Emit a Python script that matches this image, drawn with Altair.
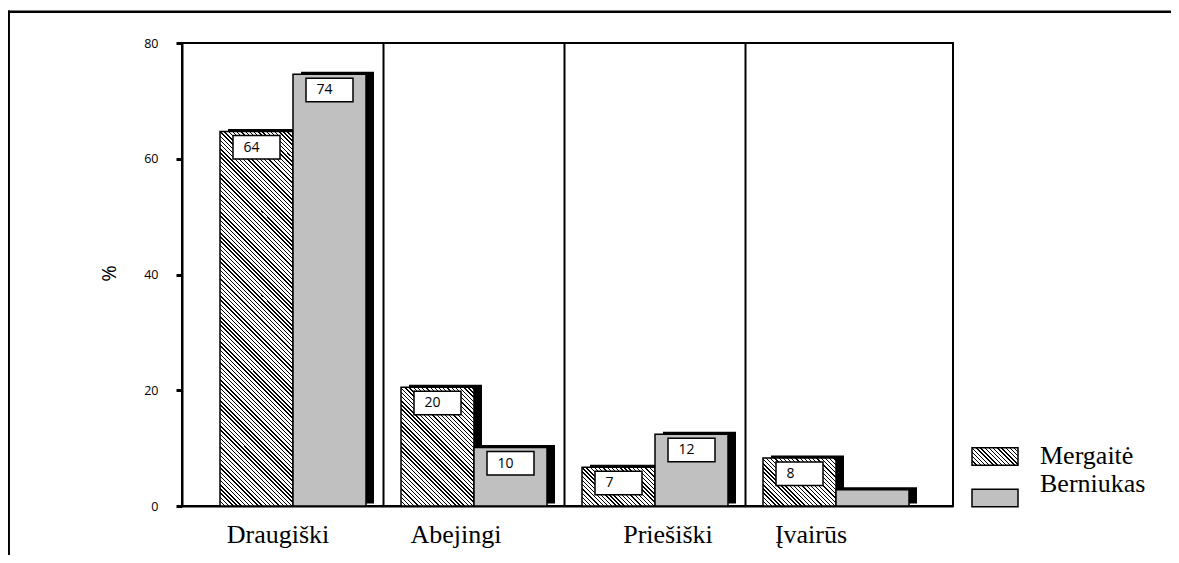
import altair as alt
import pandas as pd

# ---- data ----
categories = ["Draugiški", "Abejingi", "Priešiški", "Įvairūs"]
genders = ["Mergaitė", "Berniukas"]
girls = [64.7, 20.5, 6.7, 8.3]
boys = [74.6, 10.1, 12.4, 2.8]
girls_labels = ["64", "20", "7", "8"]
boys_labels = ["74", "10", "12", ""]
y_ticks = [0, 20, 40, 60, 80]

rows = []
for c, g, b, gl, bl in zip(categories, girls, boys, girls_labels, boys_labels):
    rows.append({"cat": c, "gender": genders[0], "value": g, "label": gl})
    rows.append({"cat": c, "gender": genders[1], "value": b, "label": bl})
df = pd.DataFrame(rows)
legend_df = pd.DataFrame({"name": genders})

# ---- layout / style ----
W, H = 771, 463
YMAX = 80
STEP = 181.0
BAND = 146.0
PI = (STEP - BAND) / STEP
OUTER = W - STEP * 3 - BAND
PO = OUTER / 2 / STEP
ALIGN = 38.0 / OUTER
BAR_W = BAND / 2
SH_DX, SH_DY = 8, -2.5
PAD = {"left": 174, "top": 35, "right": 218, "bottom": 49}
label_offsets = {"Draugiški": -15, "Abejingi": -18, "Priešiški": 13, "Įvairūs": -25}


def hatch(w, h, period=4.2, thick=1.4):
    L = w + h
    t = (w + h) / (w * w + h * h)
    stops = []
    off = 0.0
    while off < L:
        a = round(off / L, 5)
        b = round(min((off + thick) / L, 1.0), 5)
        stops += [
            {"offset": a, "color": "white"},
            {"offset": a, "color": "black"},
            {"offset": b, "color": "black"},
            {"offset": b, "color": "white"},
        ]
        off += period
    return {"gradient": "linear", "x1": 0, "y1": 1,
            "x2": round(t * w, 6), "y2": round(1 - t * h, 6), "stops": stops}


x_scale = alt.Scale(domain=categories, paddingInner=PI, paddingOuter=PO, align=ALIGN)
y_scale = alt.Scale(domain=[0, YMAX], nice=False, zero=True)
off_scale = alt.Scale(domain=genders, paddingInner=0, paddingOuter=0)

cond = [{"test": f"datum.value === '{k}'", "value": v} for k, v in label_offsets.items()]
x_axis = alt.Axis(title=None, labelFont="Liberation Serif", labelFontSize=26,
                  labelColor="black", labelAngle=0, ticks=False, tickSize=0,
                  labelPadding=36, labelBaseline="alphabetic", domainColor="black",
                  domainWidth=2, grid=False,
                  labelOffset={"condition": cond, "value": 0})
y_axis = alt.Axis(values=y_ticks, title="%", titleFont="Open Sans", titleFontSize=20,
                  titleFontWeight="normal", titleAngle=-90, titleX=-73, titleY=230,
                  titleAlign="center", titleBaseline="middle", titleColor="black",
                  labelFont="Open Sans", labelFontSize=12.5, labelColor="black",
                  labelPadding=18, tickSize=6, tickWidth=3, tickColor="black",
                  domainColor="black", domainWidth=2, grid=False)

X = alt.X("cat:N", scale=x_scale, axis=x_axis, sort=categories)
XO = alt.XOffset("gender:N", scale=off_scale, sort=genders)
Y = alt.Y("value:Q", scale=y_scale, axis=y_axis)

base = alt.Chart(df)

shadow_layers = []
for gi, sign in ((0, -1), (1, 1)):
    shadow_layers.append(
        base.transform_filter(alt.datum.gender == genders[gi]).mark_bar(
            fill="black", width=BAR_W, xOffset=sign * BAR_W / 2 + SH_DX,
            yOffset=SH_DY, y2Offset=SH_DY
        ).encode(x=X, y=Y)
    )

girl_layers = []
for c, v in zip(categories, girls):
    hpx = v / YMAX * H
    girl_layers.append(
        base.transform_filter(
            (alt.datum.gender == genders[0]) & (alt.datum.cat == c)
        ).mark_bar(fill=hatch(BAR_W, hpx), stroke="black", strokeWidth=1.5)
        .encode(x=X, xOffset=XO, y=Y)
    )

boy_bars = base.transform_filter(alt.datum.gender == genders[1]).mark_bar(
    fill="#c0c0c0", stroke="black", strokeWidth=1.5
).encode(x=X, xOffset=XO, y=Y)

lab = base.transform_filter(alt.datum.label != "")
boxes = lab.mark_point(shape="M-0.47,0.08H0.47V0.55H-0.47Z", size=10000, filled=True,
                       fill="white", stroke="black", strokeWidth=1.5, opacity=1).encode(
    x=X, xOffset=XO, y=Y)
texts = lab.mark_text(align="left", baseline="middle", dx=-13, dy=16,
                      font="Open Sans", fontSize=14, color="black").encode(
    x=X, xOffset=XO, y=Y, text="label:N")

sep_df = pd.DataFrame({"cat": categories[:-1]})
seps = alt.Chart(sep_df).mark_rule(color="black", strokeWidth=2,
                                   xOffset=(STEP - BAND) / 2).encode(
    x=alt.X("cat:N", scale=x_scale, axis=x_axis, sort=categories, bandPosition=1),
    y=alt.datum(0, scale=y_scale), y2=alt.datum(YMAX))

one = pd.DataFrame({"k": [0]})
frame_top = alt.Chart(one).mark_rule(color="black", strokeWidth=2.5, strokeCap="square").encode(
    x=alt.value(-173.3), x2=alt.value(W + PAD["right"]), y=alt.value(-31.3))
frame_left = alt.Chart(one).mark_rule(color="black", strokeWidth=2.5, strokeCap="square").encode(
    x=alt.value(-173.3), y=alt.value(-31.3), y2=alt.value(H + PAD["bottom"]))

main = alt.layer(*shadow_layers, *girl_layers, boy_bars, boxes, texts, seps,
                 frame_top, frame_left)

# ---- legend ----
sw_h = 17.5
leg_step = 41.5
leg_scale = alt.Scale(domain=genders, range=[392.75, 475.75],
                      paddingInner=1 - sw_h / leg_step, paddingOuter=(1 - sw_h / leg_step) / 2)
LY = alt.Y("name:N", scale=leg_scale, axis=None, sort=genders)
lbase = alt.Chart(legend_df)
sw_girl = lbase.transform_filter(alt.datum.name == genders[0]).mark_bar(
    fill=hatch(46, sw_h), stroke="black", strokeWidth=1.5).encode(
    x=alt.value(790), x2=alt.value(836), y=LY)
sw_boy = lbase.transform_filter(alt.datum.name == genders[1]).mark_bar(
    fill="#c0c0c0", stroke="black", strokeWidth=1.5).encode(
    x=alt.value(790), x2=alt.value(836), y=LY)
lt_girl = lbase.transform_filter(alt.datum.name == genders[0]).mark_text(
    align="left", baseline="alphabetic", dy=7.5, font="Liberation Serif", fontSize=26,
    color="black").encode(x=alt.value(858), y=LY, text="name:N")
lt_boy = lbase.transform_filter(alt.datum.name == genders[1]).mark_text(
    align="left", baseline="alphabetic", dy=-6, font="Liberation Serif", fontSize=26,
    color="black").encode(x=alt.value(858), y=LY, text="name:N")
legend = alt.layer(sw_girl, sw_boy, lt_girl, lt_boy)

chart = alt.layer(main, legend).resolve_scale(y="independent").properties(
    width=W, height=H,
    autosize=alt.AutoSizeParams(type="none"),
    padding=PAD,
    background="white",
).configure_view(stroke="black", strokeWidth=2)

chart.save("out.html", embed_options={"renderer": "svg", "actions": False})
